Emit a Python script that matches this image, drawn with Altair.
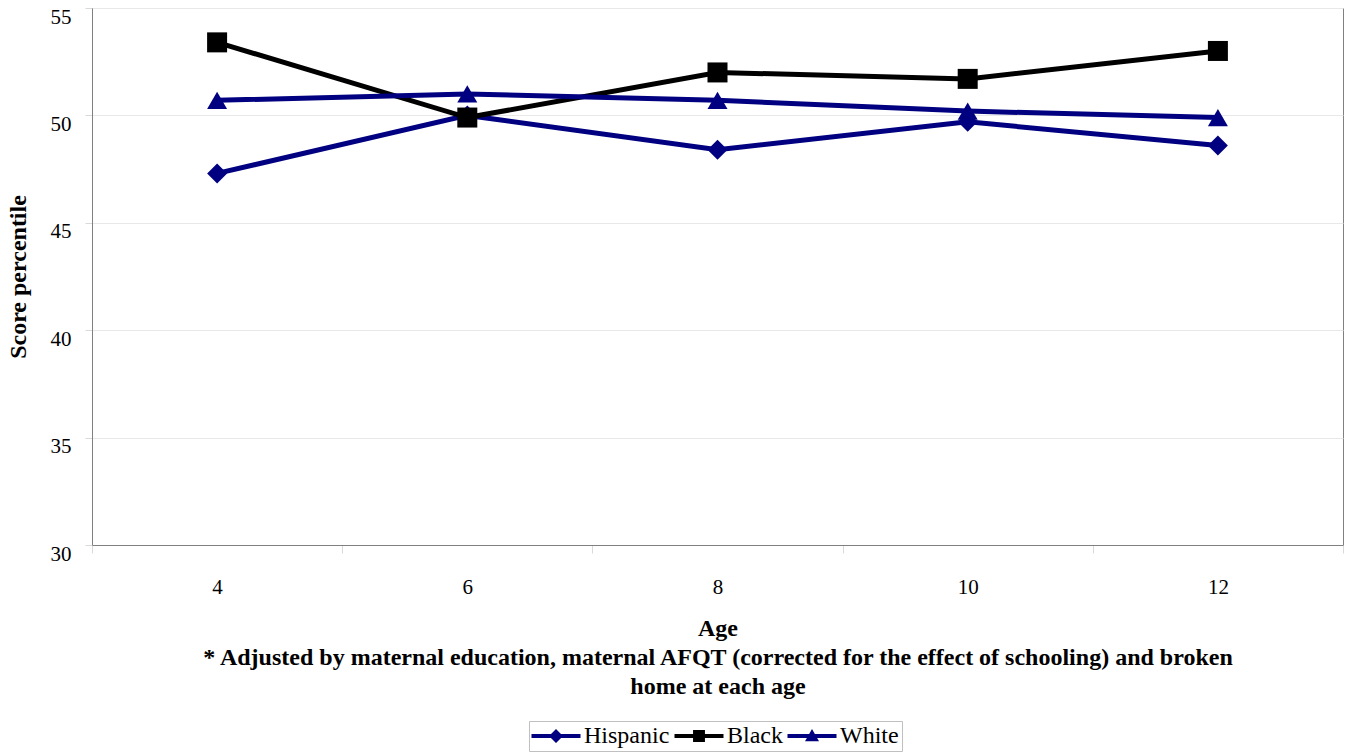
import altair as alt
import pandas as pd

ages = [4, 6, 8, 10, 12]
series_names = ["Hispanic", "Black", "White"]
hispanic = [47.3, 50.0, 48.4, 49.7, 48.6]
black = [53.4, 49.9, 52.0, 51.7, 53.0]
white = [50.7, 51.0, 50.7, 50.2, 49.9]
colors = ["#000080", "#000000", "#000080"]
shapes = ["diamond", "square", "triangle-up"]
legend_shapes = [
    "M-3.5,-0.28H3.5V0.28H-3.5Z M0,-1L1,0L0,1L-1,0Z",
    "M-3.5,-0.28H3.5V0.28H-3.5Z M-0.85,-0.85H0.85V0.85H-0.85Z",
    "M-3.5,-0.28H3.5V0.28H-3.5Z M0,-1L1,0.75H-1Z",
]
x_title = [
    "Age",
    "* Adjusted by maternal education, maternal AFQT (corrected for the effect of schooling) and broken",
    "home at each age",
]

rows = []
for name, vals in zip(series_names, [hispanic, black, white]):
    for a, v in zip(ages, vals):
        rows.append({"age": a, "series": name, "value": v})
df = pd.DataFrame(rows)

FONT = "Liberation Serif"

x_enc = alt.X(
    "age:O",
    bandPosition=0.5,
    scale=alt.Scale(type="band", paddingInner=0, paddingOuter=0),
    axis=alt.Axis(
        title=x_title,
        labelAngle=0,
        tickBand="extent",
        tickSize=8,
        tickColor="#d9d9d9",
        domainColor="#808080",
        labelPadding=23,
        titlePadding=19,
        titleLineHeight=29,
        grid=False,
    ),
)
y_enc = alt.Y(
    "value:Q",
    scale=alt.Scale(domain=[30, 55], nice=False, zero=False),
    axis=alt.Axis(
        title="Score percentile",
        values=[30, 35, 40, 45, 50, 55],
        tickSize=7,
        tickColor="#d9d9d9",
        domainColor="#808080",
        gridColor="#e8e8e8",
        labelPadding=14,
        labelBaseline="middle",
        labelOffset=9,
        titlePadding=20,
    ),
)

color_scale = alt.Scale(domain=series_names, range=colors)

base = alt.Chart(df)

lines = base.mark_line(strokeWidth=5).encode(
    x=x_enc,
    y=y_enc,
    color=alt.Color("series:N", scale=color_scale, sort=series_names, legend=None),
    detail="series:N",
)

points = base.mark_point(filled=True, size=400, opacity=1).encode(
    x=x_enc,
    y=y_enc,
    color=alt.Color("series:N", scale=color_scale, sort=series_names, legend=None),
    shape=alt.Shape("series:N", scale=alt.Scale(domain=series_names, range=shapes), legend=None),
)

legend_layer = base.mark_point(filled=True, opacity=0).encode(
    x=x_enc,
    y=y_enc,
    color=alt.Color(
        "series:N",
        scale=color_scale,
        sort=series_names,
        legend=alt.Legend(title=None),
    ),
    shape=alt.Shape(
        "series:N",
        scale=alt.Scale(domain=series_names, range=legend_shapes),
        sort=series_names,
        legend=alt.Legend(title=None),
    ),
)

chart = (
    alt.layer(lines, points, legend_layer)
    .resolve_scale(color="independent", shape="independent")
    .properties(
        width=1251,
        height=537,
        autosize=alt.AutoSizeParams(type="none"),
        padding={"left": 92, "top": 8, "right": 6, "bottom": 207},
    )
    .configure_view(stroke="#808080", strokeWidth=1)
    .configure_axis(
        labelFont=FONT,
        labelFontSize=21,
        labelColor="#000000",
        titleFont=FONT,
        titleFontSize=24,
        titleFontWeight="bold",
        titleColor="#000000",
    )
    .configure_legend(
        orient="none",
        legendX=437,
        legendY=713,
        direction="horizontal",
        labelFont=FONT,
        labelFontSize=24,
        labelColor="#000000",
        symbolSize=196,
        symbolStrokeWidth=0,
        symbolOpacity=1,
        symbolOffset=12,
        labelOffset=16,
        columnPadding=4,
        padding=3,
        strokeColor="#c0c0c0",
        fillColor="#ffffff",
    )
)

chart.save("out.html", embed_options={"renderer": "svg", "actions": False})
